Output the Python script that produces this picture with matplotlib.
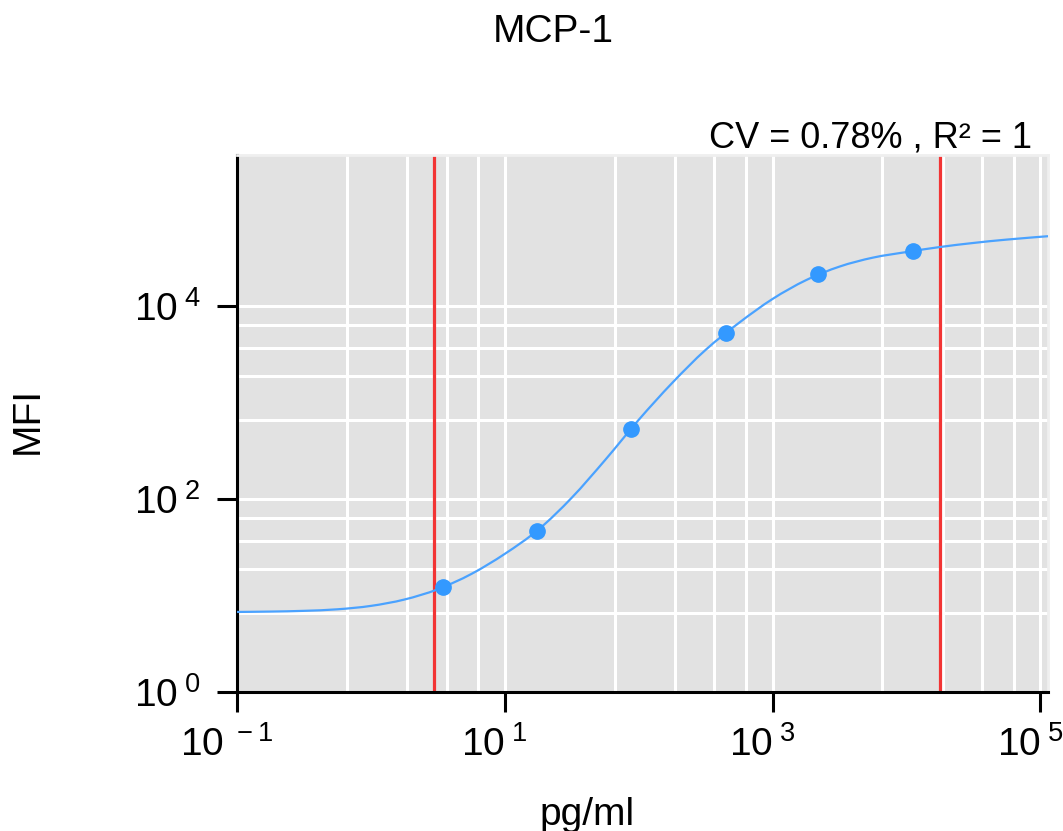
import matplotlib
matplotlib.use("Agg")
import matplotlib.pyplot as plt
from matplotlib.ticker import FixedLocator, FuncFormatter, NullFormatter
from matplotlib.path import Path
from matplotlib.patches import PathPatch
from matplotlib.transforms import ScaledTranslation
import numpy as np

plt.rcParams['font.family'] = ['Liberation Sans', 'DejaVu Sans']
plt.rcParams['mathtext.default'] = 'regular'

title = 'MCP-1'
x_label = 'pg/ml'
y_label = 'MFI'
fit_note = 'CV = 0.78% , R\u00b2 = 1'

# standards (pg/ml vs MFI)
std_conc = [3.44, 17.3, 87.1, 449, 2190, 11240]
std_mfi = [12.2, 46.6, 527, 5210, 21300, 37150]

# fitted standard curve
curve_conc = [0.1, 0.178, 0.316, 0.562, 1.0, 1.78, 3.16, 5.62, 10, 17.8, 31.6, 56.2,
              100, 178, 316, 562, 1000, 1780, 3160, 5620, 10000, 17800, 31600, 56200, 114000]
curve_mfi = [6.75, 6.81, 6.93, 7.19, 7.80, 9.08, 11.6, 16.7, 27.0, 48.1, 103, 254,
             661, 1596, 3508, 6699, 11830, 18540, 25590, 31700, 36220, 40830, 44980, 48750, 52840]

# limits of quantification (red lines)
lloq = 2.96
uloq = 17870

x_majors = [1e-1, 1e1, 1e3, 1e5]
y_majors = [1e0, 1e2, 1e4]
# the software puts 4 minor gridlines in each 2-decade step
grid_steps = [6.6, 18.7, 36.7, 63.5]


def minors(majors):
    return [m * s for m in majors[:-1] for s in grid_steps]


def pow_label(v, pos):
    return r'$10^{\;%d}$' % round(np.log10(v))


def smooth_path(xs, ys):
    # catmull-rom through the read points (in log space), drawn as bezier segments
    pts = np.column_stack([np.log10(xs), np.log10(ys)])
    n = len(pts)
    verts = [pts[0]]
    codes = [Path.MOVETO]
    for i in range(n - 1):
        p0, p1 = pts[max(i - 1, 0)], pts[i]
        p2, p3 = pts[i + 1], pts[min(i + 2, n - 1)]
        verts += [p1 + (p2 - p0) / 6, p2 - (p3 - p1) / 6, p2]
        codes += [Path.CURVE4] * 3
    return Path(10 ** np.array(verts), codes)


fig = plt.figure(figsize=(10.63, 8.31), dpi=100)
ax = fig.add_axes([0.2230, 0.1673, 0.7629, 0.6462])
ax.set_facecolor('#e2e2e2')
ax.set_xscale('log')
ax.set_yscale('log')
ax.set_xlim(0.1, 1.14e5)
ax.set_ylim(1, 3.67e5)

ax.xaxis.set_major_locator(FixedLocator(x_majors))
ax.yaxis.set_major_locator(FixedLocator(y_majors))
ax.xaxis.set_minor_locator(FixedLocator(minors(x_majors)))
ax.yaxis.set_minor_locator(FixedLocator(minors(y_majors)))
ax.xaxis.set_major_formatter(FuncFormatter(pow_label))
ax.yaxis.set_major_formatter(FuncFormatter(pow_label))
ax.xaxis.set_minor_formatter(NullFormatter())
ax.yaxis.set_minor_formatter(NullFormatter())

ax.set_axisbelow(True)
ax.grid(True, which='both', color='white', lw=2.2)

for side in ['top', 'right']:
    ax.spines[side].set_color('#efefef')
    ax.spines[side].set_linewidth(2)
for side in ['left', 'bottom']:
    ax.spines[side].set_color('black')
    ax.spines[side].set_linewidth(2.2)

ax.tick_params(which='major', length=14.4, width=2.2, direction='out', labelsize=28)
ax.tick_params(axis='x', which='major', pad=10)
ax.tick_params(axis='y', which='major', pad=11.5)
ax.tick_params(which='minor', length=0)

# x labels sit a bit left of their ticks in the original
shift = ScaledTranslation(-0.1, 0, fig.dpi_scale_trans)
for lab in ax.get_xticklabels():
    lab.set_transform(lab.get_transform() + shift)

ax.axvline(lloq, color='#f23434', lw=2.3, zorder=2)
ax.axvline(uloq, color='#f23434', lw=2.3, zorder=2)

ax.add_patch(PathPatch(smooth_path(curve_conc, curve_mfi), fill=False,
                       edgecolor='#4aa2ff', lw=1.6, zorder=3))
ax.plot(std_conc, std_mfi, 'o', ms=11, color='#3399ff', mec='#3399ff', zorder=4)

fig.text(553 / 1063, 1 - 31.5 / 831, title, ha='center', va='center', fontsize=28)
fig.text(1032 / 1063, 1 - 147 / 831, fit_note, ha='right', va='baseline', fontsize=26)
fig.text(28 / 1063, 1 - 420 / 831, y_label, rotation=90, ha='center', va='center', fontsize=28)
fig.text(587 / 1063, 1 - 825 / 831, x_label, ha='center', va='baseline', fontsize=28)

fig.savefig('out.png', dpi=100)
